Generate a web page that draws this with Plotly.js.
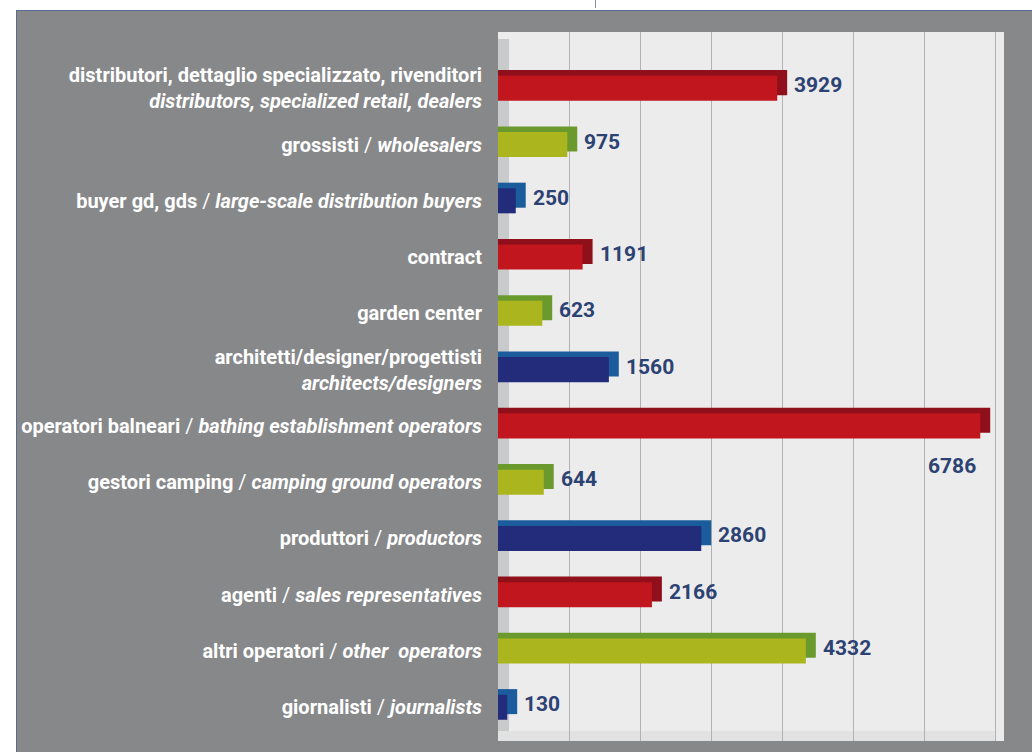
<!DOCTYPE html>
<html><head><meta charset="utf-8">
<script src="https://cdn.plot.ly/plotly-3.0.1.min.js"></script>
<style>
html,body{margin:0;padding:0;background:#fff;width:1032px;height:752px;overflow:hidden;}
#panel{position:absolute;left:16px;top:10px;width:1016px;height:742px;border-top:1px solid #5b6b8e;border-left:1px solid #5b6b8e;box-sizing:border-box;}
#tick{position:absolute;left:595px;top:0;width:1px;height:8px;background:#7f8fb0;}
#chart{position:absolute;left:0;top:0;width:1015px;height:741px;}
</style></head>
<body>
<div id="tick"></div>
<div id="panel"><div id="chart"></div></div>
<script>
// ---- data ----
const itLabels = [
  "distributori, dettaglio specializzato, rivenditori",
  "grossisti",
  "buyer gd, gds",
  "contract",
  "garden center",
  "architetti/designer/progettisti",
  "operatori balneari",
  "gestori camping",
  "produttori",
  "agenti",
  "altri operatori",
  "giornalisti"
];
const enLabels = [
  "distributors, specialized retail, dealers",
  "wholesalers",
  "large-scale distribution buyers",
  "",
  "",
  "architects/designers",
  "bathing establishment operators",
  "camping ground operators",
  "productors",
  "sales representatives",
  "other  operators",
  "journalists"
];
const values = [3929, 975, 250, 1191, 623, 1560, 6786, 644, 2860, 2166, 4332, 130];

// ---- styling ----
const frontPalette = ["#c1161d", "#abb61f", "#232b7b"];
const depthPalette = ["#8f0f1a", "#6a9a2d", "#1a5c9c"];
const twoLine = [true,false,false,false,false,true,false,false,false,false,false,false];

const idx = values.map((v,i)=>i);
const tickText = itLabels.map((it,i)=>{
  const en = enLabels[i];
  if (!en) return "<b>"+it+"</b>";
  if (twoLine[i]) return "<b>"+it+"</b><br><b><i>"+en+"</i></b>";
  return "<b>"+it+"</b> / <b><i>"+en+"</i></b>";
});
const frontColors = idx.map(i=>frontPalette[i%3]);
const depthColors = idx.map(i=>depthPalette[i%3]);

const DEPTH = 140;     // data units (~10px)
const W = 0.445;
const UP = 0.1;
const XMAX = 7120;

const depthTrace = {
  type:'bar', orientation:'h', y: idx, x: values.map(v=>v+DEPTH), base: 0,
  width: W, offset: -W/2 - UP,
  marker:{color: depthColors, line:{width:0}}, hoverinfo:'skip', showlegend:false
};
const frontTrace = {
  type:'bar', orientation:'h', y: idx, x: values,
  width: W, offset: -W/2,
  marker:{color: frontColors, line:{width:0}}, hoverinfo:'skip', showlegend:false
};

const annotations = values.map((v,i)=>{
  const big = v + 1200 > XMAX;
  return big ? {
    x: v, y: i, xref:'x', yref:'y', text: "<b>"+v+"</b>", showarrow:false,
    xanchor:'right', yanchor:'middle', xshift:-2, yshift:-40,
    font:{family:'Roboto, sans-serif', size:21, color:'#2c4273'}
  } : {
    x: v, y: i, xref:'x', yref:'y', text: "<b>"+v+"</b>", showarrow:false,
    xanchor:'left', yanchor:'middle', xshift:15, yshift:3,
    font:{family:'Roboto, sans-serif', size:21, color:'#2c4273'}
  };
});

const layout = {
  width:1015, height:741,
  margin:{l:481, r:28, t:21, b:11},
  paper_bgcolor:'#87888a',
  plot_bgcolor:'#ececec',
  barmode:'overlay',
  font:{family:'Roboto, sans-serif'},
  xaxis:{range:[0, XMAX], dtick:1000, tick0:0, showgrid:true, gridcolor:'#b2b2b2', gridwidth:1,
         showticklabels:false, zeroline:false, showline:false, ticks:'', fixedrange:true},
  yaxis:{range:[11.6, -1.0], tickmode:'array', tickvals: idx, ticktext: tickText,
         showgrid:false, zeroline:false, showline:false, ticks:'',
         tickfont:{family:'Roboto, sans-serif', size:20, color:'#ffffff'},
         ticklabelstandoff:15, fixedrange:true},
  shapes:[
    {type:'rect', xref:'paper', yref:'paper', xsizemode:'pixel', xanchor:0, x0:0, x1:11, y0:0, y1:0.99,
     fillcolor:'#c9cacc', line:{width:0}, layer:'below'},
    {type:'rect', xref:'paper', yref:'paper', ysizemode:'pixel', yanchor:0, y0:0, y1:10, x0:0, x1:1,
     fillcolor:'#e2e2e3', line:{width:0}, layer:'below'},
    {type:'rect', xref:'paper', yref:'paper', xsizemode:'pixel', xanchor:1, x0:-8, x1:0, y0:0, y1:1,
     fillcolor:'#ebebeb', line:{width:0}, layer:'below'}
  ],
  annotations: annotations
};

Plotly.newPlot('chart', [depthTrace, frontTrace], layout, {staticPlot:true, displayModeBar:false});
</script>
</body></html>
